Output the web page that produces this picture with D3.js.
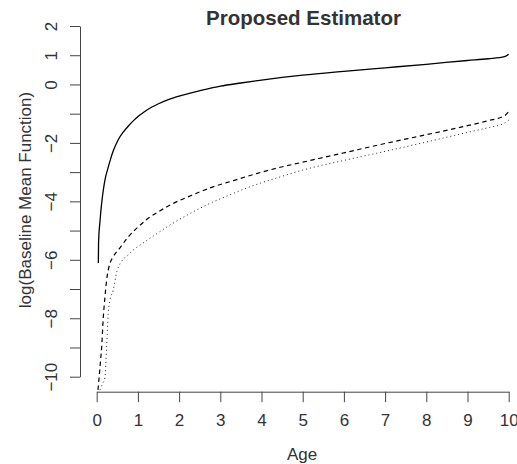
<!DOCTYPE html>
<html>
<head>
<meta charset="utf-8">
<script src="https://cdn.jsdelivr.net/npm/d3@7"></script>
<style>
  html, body { margin: 0; padding: 0; background: #fff; }
  svg { display: block; }
  text { font-family: "Liberation Sans", Arial, Helvetica, sans-serif; }
</style>
</head>
<body>
<svg id="chart" width="517" height="464"></svg>
<script>
// ---- data ----
const title = "Proposed Estimator";
const xLabel = "Age";
const yLabel = "log(Baseline Mean Function)";

const xTicks = [0, 1, 2, 3, 4, 5, 6, 7, 8, 9, 10];
const yTicks = [-10, -9, -8, -7, -6, -5, -4, -3, -2, -1, 0, 1, 2];
const yTickLabels = [-10, -8, -6, -4, -2, 0, 1, 2];

// solid curve
const solidAge = [0.04, 0.045, 0.08, 0.12, 0.16, 0.2, 0.27, 0.32, 0.4, 0.52, 0.65, 0.77, 0.9, 1.01, 1.15, 1.33, 1.5, 1.74, 2.0, 2.39, 2.7, 3.0, 3.5, 4.0, 4.5, 5.0, 6.0, 7.0, 8.0, 9.0, 9.5, 9.9, 10.0];
const solidVal = [-6.11, -5.4, -4.68, -4.07, -3.62, -3.27, -2.88, -2.63, -2.28, -1.90, -1.62, -1.42, -1.23, -1.09, -0.94, -0.78, -0.66, -0.52, -0.40, -0.25, -0.15, -0.06, 0.05, 0.15, 0.24, 0.32, 0.45, 0.57, 0.69, 0.82, 0.88, 0.95, 1.03];

// dashed curve
const dashedAge = [0.03, 0.06, 0.09, 0.12, 0.16, 0.2, 0.24, 0.32, 0.4, 0.57, 0.77, 1.01, 1.25, 1.54, 1.86, 2.31, 2.79, 3.32, 3.88, 4.41, 5.0, 6.0, 7.0, 8.0, 9.0, 9.5, 9.9, 10.0];
const dashedVal = [-10.45, -10.0, -9.5, -9.0, -7.97, -7.28, -6.71, -6.13, -5.9, -5.58, -5.21, -4.87, -4.58, -4.32, -4.07, -3.79, -3.52, -3.29, -3.05, -2.85, -2.66, -2.34, -2.02, -1.72, -1.41, -1.24, -1.07, -0.93];

// dotted curve
const dottedAge = [0.08, 0.14, 0.2, 0.24, 0.28, 0.32, 0.4, 0.49, 0.57, 0.65, 0.73, 0.89, 1.05, 1.37, 1.78, 2.26, 2.67, 3.16, 3.8, 4.37, 5.0, 6.0, 7.0, 8.0, 9.0, 9.5, 9.9, 10.0];
const dottedVal = [-10.45, -10.25, -10.03, -9.0, -7.85, -7.4, -7.05, -6.4, -6.13, -5.97, -5.88, -5.66, -5.5, -5.19, -4.81, -4.42, -4.12, -3.82, -3.46, -3.2, -2.93, -2.6, -2.29, -1.97, -1.64, -1.48, -1.32, -1.22];

// ---- drawing ----
const svg = d3.select("#chart");
const x = d3.scaleLinear().domain([0, 10]).range([96.7, 508.7]);
const y = d3.scaleLinear().domain([-10, 2]).range([376.7, 26]);

const axisColor = "#444";
const textColor = "#333";
const fontSize = 17;

// title
svg.append("text")
  .attr("x", 303.5).attr("y", 25)
  .attr("text-anchor", "middle")
  .attr("font-weight", "bold")
  .attr("font-size", 20.5)
  .attr("fill", textColor)
  .text(title);

// x axis
const xAxisY = 391.7;
const gx = svg.append("g").attr("transform", `translate(0,${xAxisY})`)
  .call(d3.axisBottom(x).tickValues(xTicks).tickSize(10.5).tickSizeOuter(0)
    .tickFormat(d3.format("d")));
gx.select(".domain").attr("stroke", axisColor);
gx.selectAll(".tick line").attr("stroke", axisColor);
gx.selectAll(".tick text").attr("font-size", fontSize).attr("fill", textColor)
  .attr("font-family", "Liberation Sans, Arial, sans-serif").attr("dy", "0.71em").attr("y", 22);

// y axis
const yAxisX = 80;
const gy = svg.append("g").attr("transform", `translate(${yAxisX},0)`)
  .call(d3.axisLeft(y).tickValues(yTicks).tickSize(10).tickSizeOuter(0)
    .tickFormat(d => yTickLabels.includes(d) ? (d < 0 ? "\u2212" + Math.abs(d) : String(d)) : ""));
gy.select(".domain").attr("stroke", axisColor);
gy.selectAll(".tick line").attr("stroke", axisColor);
gy.selectAll(".tick text")
  .attr("font-size", fontSize).attr("fill", textColor)
  .attr("font-family", "Liberation Sans, Arial, sans-serif")
  .attr("x", null).attr("dy", null)
  .attr("text-anchor", "middle")
  .attr("transform", "translate(-23,0) rotate(-90)");

// axis labels
svg.append("text")
  .attr("x", 302).attr("y", 460)
  .attr("text-anchor", "middle")
  .attr("font-size", fontSize)
  .attr("fill", textColor)
  .text(xLabel);

svg.append("text")
  .attr("transform", "translate(30.5,200) rotate(-90)")
  .attr("text-anchor", "middle")
  .attr("font-size", fontSize)
  .attr("fill", textColor)
  .text(yLabel);

// curves
const line = d3.line().x(d => x(d[0])).y(d => y(d[1])).curve(d3.curveMonotoneX);
const mk = (a, v) => a.map((d, i) => [d, v[i]]);

svg.append("path").datum(mk(solidAge, solidVal))
  .attr("d", line).attr("fill", "none").attr("stroke", "#000").attr("stroke-width", 1.3);

svg.append("path").datum(mk(dashedAge, dashedVal))
  .attr("d", line).attr("fill", "none").attr("stroke", "#000").attr("stroke-width", 1.2)
  .attr("stroke-dasharray", "4.5,3.5");

svg.append("path").datum(mk(dottedAge, dottedVal))
  .attr("d", line).attr("fill", "none").attr("stroke", "#222").attr("stroke-width", 1)
  .attr("stroke-dasharray", "1,3");
</script>
</body>
</html>
